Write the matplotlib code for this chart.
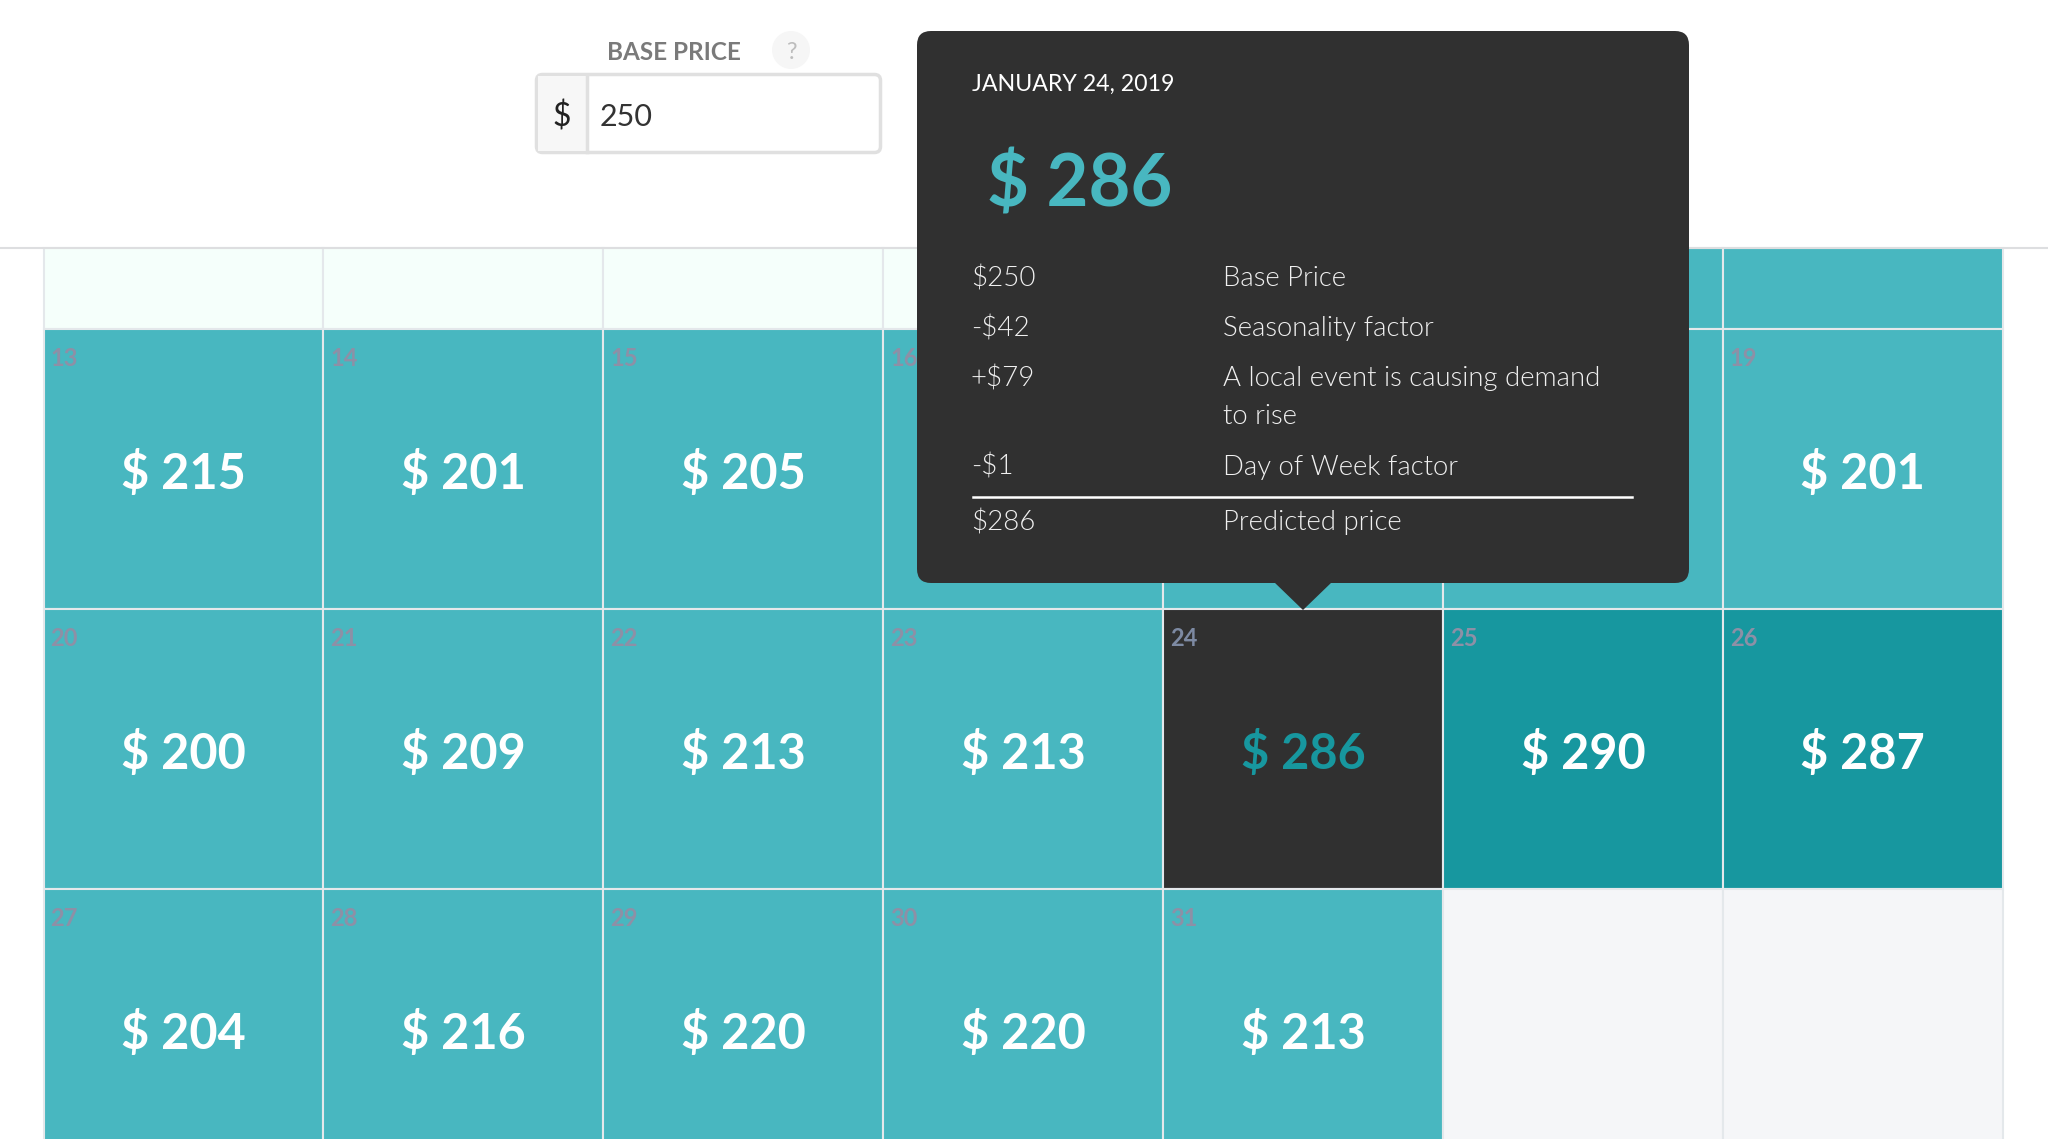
import matplotlib
matplotlib.use("Agg")
import matplotlib.pyplot as plt
from matplotlib.patches import Rectangle, FancyBboxPatch, Circle, Polygon

plt.rcParams['font.family'] = ['Lato', 'DejaVu Sans']

# calendar data, None = hidden behind the tooltip
days = [None, None, None, None, None, None, None,
        13, 14, 15, 16, 17, 18, 19,
        20, 21, 22, 23, 24, 25, 26,
        27, 28, 29, 30, 31, None, None]
prices = [None, None, None, None, None, None, None,
          215, 201, 205, None, None, None, 201,
          200, 209, 213, 213, 286, 290, 287,
          204, 216, 220, 220, 213, None, None]

tip_date = "JANUARY 24, 2019"
tip_price = "$ 286"
tip_amounts = ["$250", "-$42", "+$79", "", "-$1", "$286"]
tip_labels = ["Base Price", "Seasonality factor", "A local event is causing demand",
              "to rise", "Day of Week factor", "Predicted price"]
tip_rows_y = [286, 336, 386, 424, 475, 530]

TEAL = "#48B7C0"
DARK_TEAL = "#17979F"
INK = "#303030"
PALE = "#F5FFFB"
EMPTY = "#F5F6F8"

fig = plt.figure(figsize=(20.48, 11.39), dpi=100)
ax = fig.add_axes([0, 0, 1, 1])
ax.set_xlim(0, 2048)
ax.set_ylim(1139, 0)
ax.axis('off')

col_x = [43.5 + 279.9 * i for i in range(8)]
row_y = [248, 329, 609, 889, 1169]

# grid cells
for i in range(28):
    r, c = i // 7, i % 7
    x0, y0 = col_x[c], row_y[r]
    w, h = col_x[c + 1] - x0, row_y[r + 1] - y0
    edge = "#E4E8EB"
    if r == 0:
        fc = PALE if c < 4 else TEAL
    elif days[i] is None:
        fc = EMPTY
    elif days[i] == 24:
        fc = INK
    elif prices[i] is not None and prices[i] >= 280:
        fc = DARK_TEAL
    else:
        fc = TEAL
    ax.add_patch(Rectangle((x0, y0), w, h, fc=fc, ec=edge, lw=1.5, zorder=1))
    if days[i] is not None:
        col = "#7D8AA3" if days[i] == 24 else "#8D90A6"
        ax.text(x0 + 7, y0 + 37, str(days[i]), fontsize=17, fontweight='bold', color=col,
                va='baseline', ha='left', zorder=2)
    if prices[i] is not None:
        col = DARK_TEAL if days[i] == 24 else "white"
        ax.text(x0 + w / 2, y0 + 160, "$ %d" % prices[i], fontsize=35, fontweight='bold', color=col,
                va='baseline', ha='center', zorder=2)

# header line
ax.plot([0, 2048], [248, 248], color="#DDDEE0", lw=1.5, zorder=3)

# base price input
ax.text(674, 60, "BASE PRICE", fontsize=17.5, fontweight='bold', color="#7A7A7A", ha='center', va='baseline')
ax.add_patch(Circle((791, 50), 19, fc="#F6F6F6", ec='none'))
ax.text(791, 59, "?", fontsize=17, color="#BDBDBD", ha='center', va='baseline')
ax.add_patch(FancyBboxPatch((536.5, 74.5), 344, 78, boxstyle="round,pad=0,rounding_size=6",
                            fc="white", ec="#E0E0E0", lw=2.5, zorder=2))
ax.add_patch(Rectangle((538, 76), 48, 75, fc="#F7F7F7", ec='none', zorder=3))
ax.plot([587, 587], [75, 152], color="#E0E0E0", lw=2.5, zorder=4)
ax.text(562, 126, "$", fontsize=23, color="#222222", ha='center', va='baseline', zorder=5)
ax.text(600, 126, "250", fontsize=22, color="#333333", ha='left', va='baseline', zorder=5)

# tooltip
ax.add_patch(FancyBboxPatch((917, 31), 772, 552, boxstyle="round,pad=0,rounding_size=14",
                            fc=INK, ec='none', zorder=10))
ax.add_patch(Polygon([(1274, 582), (1332, 582), (1303, 610)], fc=INK, ec='none', zorder=10))
ax.text(972, 91, tip_date, fontsize=16.7, color="white", ha='left', va='baseline', zorder=11)
ax.text(987, 207, tip_price, fontsize=52, fontweight='bold', color=TEAL, ha='left', va='baseline', zorder=11)
for amount, label, y in zip(tip_amounts, tip_labels, tip_rows_y):
    ax.text(971, y, amount, fontsize=20, fontweight=300, color="#F0F0F0", ha='left', va='baseline', zorder=11)
    ax.text(1223, y, label, fontsize=19.8, fontweight=300, color="#F0F0F0", ha='left', va='baseline', zorder=11)
ax.plot([973, 1632], [496.5, 496.5], color="white", lw=1.8, zorder=11)

plt.savefig('out.png', dpi=100, facecolor='white')
